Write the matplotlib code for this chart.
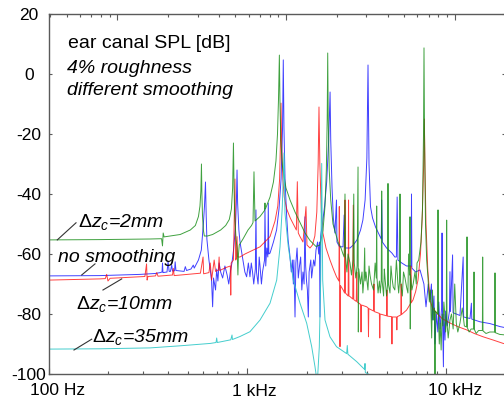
import matplotlib
matplotlib.use('Agg')
import matplotlib.pyplot as plt
import matplotlib.transforms as mtransforms
from matplotlib.ticker import LogLocator, NullFormatter, FixedLocator

plt.rcParams['font.family'] = ['Liberation Sans', 'DejaVu Sans']
plt.rcParams['mathtext.fontset'] = 'custom'
plt.rcParams['mathtext.rm'] = 'Liberation Sans'
plt.rcParams['mathtext.it'] = 'Liberation Sans:italic'
plt.rcParams['mathtext.bf'] = 'Liberation Sans:bold'

# ---------------- data (frequency in Hz, level in dB) ----------------
green_2mm = [
    (100, -55.3), (181, -55.2), (324, -55.0), (370, -54.9), (374, -57.3), (377, -53.0),
    (381, -54.3), (459, -53.5), (516, -52.0), (547, -50.5), (567, -47.5), (577, -44),
    (583, -39), (587, -30), (590, -40), (594, -47), (600, -52), (607, -54), (629, -54),
    (668, -53.5), (733, -52), (777, -50.5), (810, -48.5), (830, -45), (842, -38), (850, -23),
    (856, -38), (862, -47), (876, -55), (886, -58), (895, -67), (901, -60), (909, -57),
    (949, -55), (1006, -52), (1048, -50.5), (1066, -49.5), (1078, -32.6), (1091, -49),
    (1156, -47.5), (1218, -45.5), (1224, -43), (1230, -45), (1298, -41), (1350, -36),
    (1390, -29), (1415, -20), (1432, -8), (1446, 6.3), (1455, -8), (1470, -22), (1500, -31),
    (1561, -38), (1636, -42), (1733, -46), (1836, -49.5), (1945, -53), (2061, -55.5),
    (2209, -57.5), (2314, -57), (2396, -52), (2452, -44), (2490, -32), (2515, -15), (2530, 7),
    (2545, -15), (2575, -32), (2620, -42), (2689, -50), (2850, -56), (2950, -58), (3020, -60),
    (3060, -61), (3090, -40), (3110, -61), (3160, -66), (3200, -60), (3274, -63), (3330, -67),
    (3390, -62), (3420, -40), (3440, -63), (3500, -68), (3555, -64), (3593, -31), (3605, -86),
    (3625, -65), (3700, -70), (3762, -66), (3800, -73), (3850, -68), (3880, -58), (3900, -69),
    (3940, -66), (4030, -72), (4080, -64), (4127, -67), (4200, -70), (4300, -72), (4380, -63),
    (4440, -68), (4459, -44), (4475, -68), (4530, -73), (4600, -69), (4650, -73), (4700, -69),
    (4725, -39), (4750, -69), (4830, -74), (4870, -65), (4909, -68), (5000, -74), (5060, -70),
    (5082, -36.5), (5105, -70), (5200, -73), (5260, -64), (5323, -68), (5400, -71), (5500, -72),
    (5600, -62), (5700, -70), (5750, -73), (5810, -69), (5840, -40), (5870, -69), (6000, -74),
    (6080, -66), (6188, -68), (6300, -71), (6400, -73), (6450, -60), (6530, -67), (6556, -47.6),
    (6575, -85), (6600, -67), (6700, -72), (6800, -70), (6947, -66), (7050, -70), (7110, -63),
    (7250, -62), (7445, -56), (7577, -45), (7665, -20), (7709, 8.7), (7754, -20), (7845, -50),
    (7950, -62), (8075, -68), (8200, -76), (8300, -72), (8426, -88), (8500, -72), (8600, -82),
    (8700, -78), (8755, -101), (8800, -79), (8931, -79.7), (9020, -80), (9065, -45.3),
    (9110, -81), (9200, -90), (9300, -83), (9400, -92), (9500, -80), (9600, -84), (9700, -76),
    (9800, -80), (9900, -86), (9980, -82), (10020, -48.7), (10060, -83), (10200, -88),
    (10410, -82), (10600, -80), (10800, -85), (11000, -70), (11200, -83), (11400, -86),
    (11690, -83), (12000, -78), (12300, -84), (12640, -84.3), (12680, -54.3), (12720, -84.5),
    (13000, -86), (13300, -85), (13720, -85), (13750, -66), (13780, -85), (14100, -86.5),
    (14500, -85.5), (15150, -85.5), (15200, -61), (15250, -85.6), (15800, -86.5), (16500, -86),
    (17500, -86), (17530, -66.3), (17560, -86.2), (18500, -86.8), (19910, -87),
]

blue_none = [
    (100, -67.3), (181, -67.2), (288, -66.8), (343, -66.5), (364, -66.2), (372, -66), (374, -63),
    (376, -66.2), (394, -66), (399, -62.5), (404, -65.8), (410, -65.8), (416, -63.7), (420, -65.7),
    (430, -65.6), (433, -62.6), (437, -65.5), (480, -65.8), (487, -64.2), (494, -65.5), (520, -65),
    (534, -63.7), (540, -64.7), (567, -62), (586, -58.7), (600, -50), (608, -44), (615, -36),
    (620, -47), (625, -55), (640, -62), (652, -66), (660, -69), (668, -77.6), (675, -68),
    (691, -72), (700, -65), (710, -69), (720, -63), (733, -66), (750, -68), (770, -64),
    (790, -67), (805, -70), (820, -66), (835, -63), (850, -59), (870, -51), (880, -42),
    (886, -32), (892, -43), (905, -52), (917, -56), (949, -62), (970, -66), (990, -67.6),
    (1010, -63), (1029, -67.6), (1045, -63), (1060, -66), (1075, -70), (1095, -65), (1103, -45.3),
    (1110, -66), (1130, -70), (1145, -61), (1156, -64), (1175, -70), (1190, -66), (1218, -62),
    (1224, -44.7), (1235, -64), (1250, -58), (1265, -61), (1272, -43), (1280, -60), (1298, -59.7),
    (1350, -56), (1400, -52), (1440, -45), (1475, -35), (1500, -18), (1513, 4.7), (1525, -18),
    (1545, -36), (1575, -48), (1600, -55.3), (1630, -60), (1660, -66), (1680, -62), (1700, -70),
    (1710, -62), (1733, -81), (1750, -63), (1775, -58), (1800, -68), (1825, -64), (1850, -61),
    (1875, -72), (1900, -66), (1925, -70), (1945, -47.6), (1960, -64), (1980, -69), (2000, -72),
    (2021, -81), (2040, -66), (2080, -62), (2100, -68), (2150, -62), (2180, -64), (2209, -58.7),
    (2250, -56), (2280, -60), (2300, -56), (2314, -81), (2330, -54), (2380, -50), (2440, -44),
    (2500, -36), (2560, -22), (2600, -6), (2620, -22), (2660, -38), (2700, -48), (2750, -53),
    (2800, -42), (2815, -56), (2900, -57.6), (3020, -57.6), (3060, -47), (3080, -58),
    (3274, -58), (3400, -57), (3550, -55.3), (3700, -52), (3800, -48.7), (3900, -42), (3980, -28),
    (4033, 3), (4080, -30), (4150, -44.2), (4250, -48), (4400, -51), (4550, -53), (4700, -55),
    (4725, -42), (4760, -56), (5000, -58), (5320, -59.7), (5500, -61), (5600, -61), (5650, -41),
    (5700, -62), (5960, -63), (6300, -64), (6650, -64), (6670, -40), (6700, -64.7), (7000, -66),
    (7360, -65.3), (7700, -70), (7890, -77.6), (8100, -70), (8263, -75.3), (8400, -70),
    (8500, -82), (8650, -74), (8755, -90), (8900, -80), (9050, -86), (9150, -76), (9276, -85),
    (9450, -78), (9500, -53), (9550, -80), (9650, -97.6), (9700, -80), (9828, -88.7), (9900, -79),
    (10100, -84), (10350, -79), (10410, -65.9), (10470, -79.2), (10730, -60.3), (10790, -79.6),
    (11200, -80), (11690, -80.5), (12130, -61), (12190, -81), (13130, -81.5), (13340, -76.4),
    (13400, -81.7), (14740, -82.6), (16550, -83.2), (18580, -84.2), (19910, -84.6),
]

red_10mm = [
    (100, -68.7), (181, -68.3), (193, -68.2), (196, -66.8), (199, -69), (204, -68.1), (288, -67.6),
    (305, -67.5), (311, -63.3), (313, -68.7), (316, -67.5), (345, -67.3), (350, -66.2),
    (355, -67.4), (420, -67), (424, -64.8), (428, -67.2), (500, -66.8), (560, -66.5), (580, -66.4),
    (598, -61), (602, -66.6), (640, -66.2), (650, -63), (660, -68.7), (668, -66), (680, -62),
    (691, -65.8), (714, -65.3), (720, -61), (725, -65.5), (780, -64.5), (820, -64), (824, -73.7),
    (828, -63), (850, -62), (865, -35), (872, -62), (880, -61.5), (886, -54.2), (892, -61),
    (917, -61), (971, -60), (1029, -59.2), (1156, -57.6), (1298, -54.2), (1375, -49),
    (1420, -44), (1450, -35), (1465, -22), (1474, -9.7), (1485, -24), (1505, -35), (1530, -41),
    (1574, -45), (1640, -48), (1699, -50), (1760, -52), (1780, -35.9), (1800, -53), (1836, -54.2),
    (1900, -56), (1968, -44.2), (1990, -57), (2061, -58), (2120, -57), (2180, -54), (2230, -46),
    (2265, -30), (2287, -11), (2310, -30), (2350, -46), (2393, -53), (2480, -58), (2597, -62),
    (2700, -65), (2801, -67.6), (2880, -69), (2893, -44.2), (2905, -70), (2916, -90.9),
    (2930, -70.5), (3025, -72), (3075, -73), (3090, -42), (3105, -73), (3205, -74), (3220, -42),
    (3235, -74), (3274, -74.2), (3380, -75), (3400, -43.7), (3420, -75.2), (3520, -75.8),
    (3540, -66), (3560, -76), (3700, -76.8), (3720, -86), (3740, -77), (3970, -77.6),
    (4040, -78), (4055, -87.6), (4070, -78.2), (4300, -79), (4320, -70), (4340, -79.2),
    (4600, -79.8), (4620, -88), (4640, -80), (4810, -80.3), (5000, -80.6), (5020, -72),
    (5040, -80.7), (5300, -80.9), (5320, -90), (5340, -81), (5600, -81), (5630, -85.3),
    (5660, -80.9), (5900, -80.3), (5920, -70), (5940, -80.2), (6300, -78.7), (6600, -76.5),
    (6620, -64), (6640, -76.3), (6790, -75.3), (7000, -72.5), (7190, -68.7), (7400, -60),
    (7550, -48), (7680, -30), (7740, -15), (7800, -32), (7889, -50), (8050, -65), (8263, -75.3),
    (8500, -78), (8930, -79.7), (9500, -81.5), (10410, -83), (11400, -84.2), (12630, -85.3),
    (13800, -86.5), (15280, -87.6), (17200, -88.7), (19260, -89.8), (19910, -90),
]

cyan_35mm = [
    (100, -91.7), (181, -91.6), (324, -91.3), (459, -90.6), (652, -89.8), (695, -89.5),
    (700, -88), (705, -89.5), (824, -88.6), (836, -87), (840, -88.5), (917, -87.5),
    (1029, -85.9), (1156, -82), (1298, -76.4), (1402, -68.7), (1457, -57.6), (1496, -44.2),
    (1526, -26.3), (1543, -46.4), (1603, -57.6), (1699, -68.7), (1836, -76.4), (1984, -83.1),
    (2102, -90.9), (2184, -97.6), (2243, -103), (2295, -91), (2332, -68.7), (2360, -29.8),
    (2387, -68.7), (2452, -82), (2597, -87.6), (2801, -90.9), (3150, -93.2), (3173, -90.5),
    (3195, -93.4), (3540, -95.9), (3880, -98.5), (3895, -96.5), (3910, -99.5), (4127, -100.3),
    (4600, -102),
]

y_ticks = [20, 0, -20, -40, -60, -80, -100]
x_labels = [(100, '100 Hz'), (1000, '1 kHz'), (10000, '10 kHz')]

curve_labels = [
    (140.7, -50.9, r'$\Delta z_c$=2mm'),
    (111.6, -62.6, 'no smoothing'),
    (137.5, -78.4, r'$\Delta z_c$=10mm'),
    (165.4, -89.2, r'$\Delta z_c$=35mm'),
]
leaders = [
    ((110.7, 137.5), (-55.3, -49.6)),
    ((146.8, 171.3), (-67.0, -63.3)),
    ((187.8, 233.3), (-72.0, -68.3)),
    ((134.3, 164.8), (-92.0, -88.4)),
]

# ---------------- figure ----------------
W, H = 504, 400
fig = plt.figure(figsize=(W / 100, H / 100), dpi=100)
ax = fig.add_axes([48.5 / W, 26 / H, 456.5 / W, 360 / H])
ax.set_xscale('log')
ax.set_xlim(100, 19680)
ax.set_ylim(-100, 20)

series = [
    (blue_none, '#0000ff', 0.75),
    (red_10mm, '#ff0000', 0.75),
    (green_2mm, '#108a10', 0.8),
    (cyan_35mm, '#30c8c8', 0.9),
]
for data, color, alpha in series:
    f = [p[0] for p in data]
    d = [p[1] for p in data]
    ax.plot(f, d, color=color, lw=0.7, alpha=alpha)

spine_col = '#5a5a5a'
for s in ax.spines.values():
    s.set_color(spine_col)
    s.set_linewidth(1.0)

ax.set_yticks(y_ticks)
ax.set_yticklabels([str(v) for v in y_ticks])
ax.xaxis.set_major_locator(FixedLocator([100, 1000, 10000]))
ax.xaxis.set_minor_locator(LogLocator(base=10, subs=range(2, 10)))
ax.xaxis.set_major_formatter(NullFormatter())
ax.xaxis.set_minor_formatter(NullFormatter())
ax.tick_params(axis='both', which='major', direction='in', length=4.5, width=0.8,
               color=spine_col, top=False, right=True, labelsize=12.5)
ax.tick_params(axis='x', which='minor', direction='in', length=2.2, width=0.8,
               color=spine_col, top=False)
ax.tick_params(axis='y', which='major', pad=14, length=2.5)
for lbl in ax.get_yticklabels():
    lbl.set_horizontalalignment('center')

# top (secondary log scale)
ax2 = ax.twiny()
ax2.set_xscale('log')
ax2.set_xlim(0.391, 198.7)
ax2.xaxis.set_major_locator(FixedLocator([1, 10, 100]))
ax2.xaxis.set_minor_locator(LogLocator(base=10, subs=range(2, 10)))
ax2.xaxis.set_major_formatter(NullFormatter())
ax2.xaxis.set_minor_formatter(NullFormatter())
ax2.tick_params(axis='x', which='major', direction='in', length=4.5, width=0.8, color=spine_col,
                bottom=False, top=True)
ax2.tick_params(axis='x', which='minor', direction='in', length=2.2, width=0.8, color=spine_col,
                bottom=False, top=True)
for s in ax2.spines.values():
    s.set_visible(False)

# x labels
trans = mtransforms.blended_transform_factory(ax.transData, ax.transAxes)
for fx, txt in x_labels:
    dy = -0.050 if fx == 1000 else -0.047
    off = mtransforms.offset_copy(trans, fig=fig, x=(-15 if fx == 1000 else -18.5) * 0.72,
                                  y=0, units='points')
    ax.text(fx, dy, txt, transform=off, ha='left', va='center', fontsize=12.5, clip_on=False)

# annotation texts
ax.text(0.0427, 0.905, 'ear canal SPL [dB]', transform=ax.transAxes, fontsize=14,
        ha='left', va='baseline')
ax.text(0.040, 0.835, '4% roughness', transform=ax.transAxes, fontsize=14,
        ha='left', va='baseline', style='italic')
ax.text(0.040, 0.775, 'different smoothing', transform=ax.transAxes, fontsize=14,
        ha='left', va='baseline', style='italic')

for fx, dy, txt in curve_labels:
    ax.text(fx, dy, txt, fontsize=14, style='italic', ha='left', va='baseline')
for xs, ys in leaders:
    ax.plot(xs, ys, color='#333333', lw=0.8)

fig.savefig('out.png', dpi=100)
